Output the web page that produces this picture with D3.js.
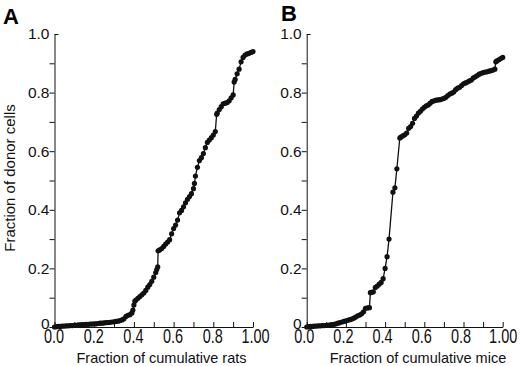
<!DOCTYPE html>
<html>
<head>
<meta charset="utf-8">
<script src="https://cdn.jsdelivr.net/npm/d3@7"></script>
<style>
  body { margin: 0; background: #fff; }
  svg { display: block; font-family: Arial, "Liberation Sans", Helvetica, sans-serif; }
  .axis path, .axis line { stroke: #111; stroke-width: 1; }
  .axis text { fill: #111; }
  .axis-name { fill: #111; font-size: 14.5px; }
  .panel-tag { fill: #000; font-weight: bold; font-size: 22px; }
</style>
</head>
<body>
<div id="chart"></div>
<script>
// Data: [fraction of cumulative animals, fraction of donor cells]
const ratsCurve = [
  [0.00, 0.000], [0.01, 0.001], [0.02, 0.002], [0.03, 0.002], [0.04, 0.003],
  [0.05, 0.003], [0.06, 0.004], [0.07, 0.004], [0.08, 0.005], [0.09, 0.005],
  [0.10, 0.006], [0.11, 0.006], [0.12, 0.007], [0.13, 0.007], [0.14, 0.008],
  [0.15, 0.008], [0.16, 0.009], [0.17, 0.009], [0.18, 0.010], [0.19, 0.010],
  [0.20, 0.011], [0.21, 0.011], [0.22, 0.012], [0.23, 0.013], [0.24, 0.013],
  [0.25, 0.014], [0.26, 0.015], [0.27, 0.015], [0.28, 0.016], [0.29, 0.017],
  [0.30, 0.018], [0.31, 0.019], [0.32, 0.020], [0.33, 0.022], [0.34, 0.024],
  [0.35, 0.028], [0.36, 0.036], [0.37, 0.040], [0.38, 0.042], [0.39, 0.048],
  [0.395, 0.058], [0.40, 0.075], [0.405, 0.088], [0.41, 0.092], [0.42, 0.098],
  [0.43, 0.104], [0.44, 0.110], [0.45, 0.116], [0.46, 0.125], [0.47, 0.136],
  [0.48, 0.145], [0.49, 0.156], [0.50, 0.170], [0.51, 0.186], [0.515, 0.196],
  [0.52, 0.205], [0.522, 0.260], [0.53, 0.263], [0.54, 0.268], [0.55, 0.275],
  [0.56, 0.283], [0.57, 0.290], [0.58, 0.298], [0.59, 0.318], [0.60, 0.336],
  [0.61, 0.348], [0.62, 0.365], [0.63, 0.390], [0.64, 0.398], [0.65, 0.410],
  [0.66, 0.424], [0.67, 0.436], [0.68, 0.445], [0.69, 0.455], [0.70, 0.472],
  [0.705, 0.490], [0.71, 0.515], [0.72, 0.545], [0.73, 0.568], [0.74, 0.578],
  [0.75, 0.592], [0.76, 0.612], [0.77, 0.630], [0.78, 0.638], [0.79, 0.646],
  [0.80, 0.655], [0.81, 0.667], [0.817, 0.726], [0.82, 0.730], [0.83, 0.742],
  [0.84, 0.752], [0.85, 0.762], [0.86, 0.764], [0.87, 0.766], [0.88, 0.772],
  [0.89, 0.782], [0.90, 0.792], [0.905, 0.836], [0.91, 0.845], [0.92, 0.864],
  [0.93, 0.880], [0.94, 0.905], [0.95, 0.920], [0.96, 0.928], [0.97, 0.932],
  [0.98, 0.934], [0.99, 0.937], [1.00, 0.940],
];

const miceCurve = [
  [0.00, 0.000], [0.01, 0.001], [0.02, 0.002], [0.03, 0.002], [0.04, 0.003],
  [0.05, 0.003], [0.06, 0.004], [0.07, 0.004], [0.08, 0.005], [0.09, 0.005],
  [0.10, 0.006], [0.11, 0.006], [0.12, 0.007], [0.13, 0.008], [0.14, 0.009],
  [0.15, 0.011], [0.16, 0.013], [0.17, 0.015], [0.18, 0.017], [0.19, 0.019],
  [0.20, 0.021], [0.21, 0.023], [0.22, 0.025], [0.23, 0.027], [0.24, 0.030],
  [0.25, 0.034], [0.26, 0.038], [0.27, 0.041], [0.28, 0.045], [0.29, 0.052],
  [0.30, 0.064], [0.31, 0.065], [0.32, 0.066], [0.325, 0.117], [0.33, 0.118],
  [0.34, 0.120], [0.35, 0.135], [0.36, 0.140], [0.37, 0.146], [0.38, 0.152],
  [0.39, 0.165], [0.40, 0.200], [0.41, 0.240], [0.42, 0.300], [0.44, 0.460],
  [0.45, 0.475], [0.46, 0.540], [0.475, 0.645], [0.48, 0.648], [0.49, 0.652],
  [0.50, 0.656], [0.51, 0.662], [0.52, 0.678], [0.53, 0.684], [0.54, 0.695],
  [0.55, 0.712], [0.56, 0.720], [0.57, 0.730], [0.58, 0.736], [0.59, 0.744],
  [0.60, 0.750], [0.61, 0.755], [0.62, 0.758], [0.63, 0.764], [0.64, 0.770],
  [0.65, 0.772], [0.66, 0.774], [0.67, 0.775], [0.68, 0.776], [0.69, 0.778],
  [0.70, 0.780], [0.71, 0.784], [0.72, 0.790], [0.73, 0.795], [0.74, 0.798],
  [0.75, 0.802], [0.76, 0.810], [0.77, 0.815], [0.78, 0.818], [0.79, 0.824],
  [0.80, 0.830], [0.81, 0.833], [0.82, 0.836], [0.83, 0.840], [0.84, 0.843],
  [0.85, 0.850], [0.86, 0.854], [0.87, 0.858], [0.88, 0.863], [0.89, 0.866],
  [0.90, 0.868], [0.91, 0.870], [0.92, 0.871], [0.93, 0.873], [0.94, 0.875],
  [0.95, 0.877], [0.96, 0.880], [0.965, 0.905], [0.97, 0.908], [0.98, 0.912],
  [0.99, 0.916], [1.00, 0.920],
];

// tick values and labels (odd ticks are unlabelled)
const tickVals = [0, 0.1, 0.2, 0.3, 0.4, 0.5, 0.6, 0.7, 0.8, 0.9, 1.0];
const xTickLabels = ['0.0', '', '0.2', '', '0.4', '', '0.6', '', '0.8', '', '1.00'];
const yTickLabels = ['0', '', '0.2', '', '0.4', '', '0.6', '', '0.8', '', '1.0'];

const width = 520;
const height = 366;

const svg = d3
  .select('#chart')
  .append('svg')
  .attr('width', width)
  .attr('height', height);

function drawPanel(data, opts) {
  const xScale = d3.scaleLinear([0, 1], [opts.x0, opts.x1]);
  const yScale = d3.scaleLinear([0, 1], [327, 34]);

  const g = svg.append('g');

  // x axis, ticks pointing up
  const xAxis = d3
    .axisBottom(xScale)
    .tickValues(tickVals)
    .tickFormat((d, i) => xTickLabels[i])
    .tickSizeInner(-5)
    .tickSizeOuter(0)
    .tickPadding(1.5);

  const gx = g
    .append('g')
    .attr('class', 'axis')
    .attr('transform', `translate(0, ${yScale(0)})`)
    .call(xAxis);
  gx.selectAll('text')
    .style('font-size', '14.5px')
    .attr('dx', (d, i) => (i === 10 ? opts.dx + 3 : opts.dx))
    .attr('transform', 'scale(1, 1.35)');

  // y axis
  const yAxis = d3
    .axisLeft(yScale)
    .tickValues(tickVals)
    .tickFormat((d, i) => yTickLabels[i])
    .tickSizeInner(5)
    .tickSizeOuter(0)
    .tickPadding(0);

  const gy = g
    .append('g')
    .attr('class', 'axis')
    .attr('transform', `translate(${xScale(0)}, 0)`)
    .call(yAxis);
  gy.selectAll('text').style('font-size', '15.5px');
  gy.selectAll('.tick')
    .filter((d) => d === 1)
    .select('line')
    .attr('x2', 4);
  gy.selectAll('.tick')
    .filter((d) => d === 0)
    .select('text')
    .attr('dy', '0.1em');

  // connecting line
  const line = d3
    .line()
    .x((d) => xScale(d[0]))
    .y((d) => yScale(d[1]));

  g.append('path')
    .datum(data)
    .attr('d', line)
    .attr('fill', 'none')
    .attr('stroke', '#111')
    .attr('stroke-width', 1.3);

  // dots
  g.append('g')
    .selectAll('circle')
    .data(data)
    .join('circle')
    .attr('cx', (d) => xScale(d[0]))
    .attr('cy', (d) => yScale(d[1]))
    .attr('r', 2.6)
    .attr('fill', '#111');

  // x-axis name
  g.append('text')
    .attr('class', 'axis-name')
    .attr('text-anchor', 'middle')
    .attr('x', opts.titleX)
    .attr('y', 362.5)
    .text(opts.title);

  // panel letter
  g.append('text')
    .attr('class', 'panel-tag')
    .attr('x', opts.tagX)
    .attr('y', opts.tagY)
    .text(opts.tag);
}

drawPanel(ratsCurve, {
  x0: 54.5,
  x1: 253,
  dx: -1,
  title: 'Fraction of cumulative rats',
  titleX: 161.5,
  tag: 'A',
  tagX: 3,
  tagY: 23.5,
});

drawPanel(miceCurve, {
  x0: 306.7,
  x1: 502.7,
  dx: -3,
  title: 'Fraction of cumulative mice',
  titleX: 418,
  tag: 'B',
  tagX: 281,
  tagY: 20.5,
});

// y-axis name (shared, left side)
svg
  .append('text')
  .attr('class', 'axis-name')
  .attr('text-anchor', 'middle')
  .style('font-size', '15px')
  .attr('transform', 'translate(14.5, 178)rotate(-90)')
  .text('Fraction of donor cells');
</script>
</body>
</html>
